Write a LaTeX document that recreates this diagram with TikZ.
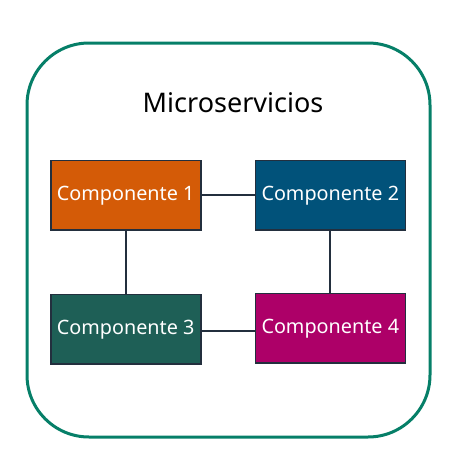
\documentclass[tikz,border=0pt]{standalone}
\usepackage{fontspec}
\setmainfont{Noto Sans}
\usetikzlibrary{positioning}

\definecolor{frameGreen}{HTML}{067F68}
\definecolor{compOrange}{HTML}{D45B07}
\definecolor{compBlue}{HTML}{01527A}
\definecolor{compTeal}{HTML}{1E5F56}
\definecolor{compPink}{HTML}{AD0068}
\definecolor{lineDark}{HTML}{232F3E}

\tikzset{
  comp/.style={draw=lineDark, line width=1.6pt, text=white, font=\fontsize{19.8}{23}\selectfont,
    minimum width=150pt, minimum height=69.5pt, inner sep=0pt},
  link/.style={draw=lineDark, line width=2pt}
}

\begin{document}
\begin{tikzpicture}[x=1pt,y=-1pt]
  \useasboundingbox (0,0) rectangle (463,464);
  % frame
  \draw[frameGreen, line width=3pt, rounded corners=62pt] (27,43) rectangle (430,437);
  \node (title) at (233,103) {\fontsize{27}{32}\selectfont Microservicios};

  % components
  \node[comp, fill=compOrange] (C1) at (125.7,195.3) {Componente 1};
  \node[comp, fill=compBlue]   (C2) at (330.3,195.3) {Componente 2};
  \node[comp, fill=compTeal]   (C3) at (125.7,329.3) {Componente 3};
  \node[comp, fill=compPink]   (C4) at (330.3,328.3) {Componente 4};

  \draw[link] (C1) to (C2);
  \draw[link] (C1) to (C3);
  \draw[link] (C2) to (C4);
  \draw[link] (C3.east |- 0,331) to (C4.west |- 0,331);

\end{tikzpicture}
\end{document}
